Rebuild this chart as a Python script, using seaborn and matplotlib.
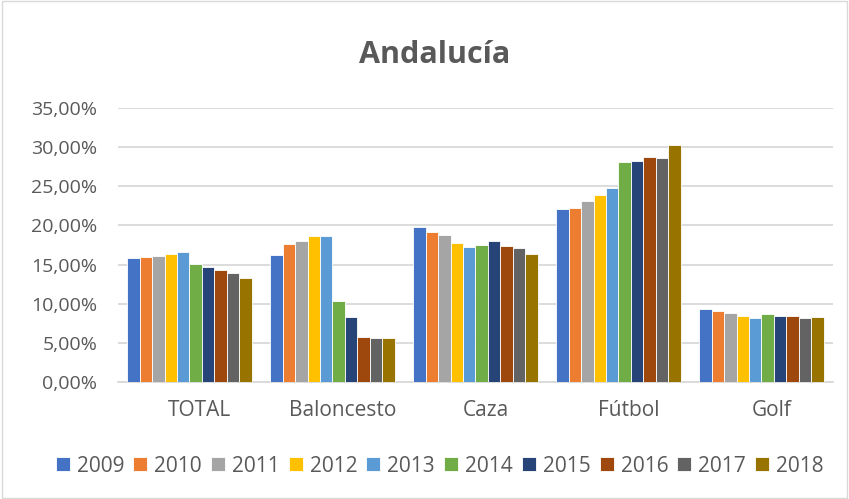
import seaborn as sns
import matplotlib.pyplot as plt
import matplotlib.transforms as mtransforms
import pandas as pd
from matplotlib.ticker import FuncFormatter, MultipleLocator
from matplotlib.patches import Rectangle

# porcentajes (Andalucia)
categorias = ["TOTAL", "Baloncesto", "Caza", "Fútbol", "Golf"]
anios = ["2009", "2010", "2011", "2012", "2013", "2014", "2015", "2016", "2017", "2018"]
total = [15.87, 15.92, 16.04, 16.38, 16.55, 15.11, 14.69, 14.26, 13.97, 13.33]
baloncesto = [16.17, 17.57, 18.04, 18.59, 18.59, 10.31, 8.32, 5.69, 5.56, 5.56]
caza = [19.86, 19.10, 18.76, 17.70, 17.23, 17.49, 18.00, 17.40, 17.06, 16.30]
futbol = [22.11, 22.28, 23.13, 23.90, 24.75, 28.06, 28.27, 28.74, 28.61, 30.31]
golf = [9.30, 9.04, 8.79, 8.40, 8.19, 8.66, 8.40, 8.40, 8.19, 8.36]

colores = ["#4472C4", "#ED7D31", "#A5A5A5", "#FFC000", "#5B9BD5",
           "#70AD47", "#264478", "#9E480E", "#636363", "#997300"]

filas = []
for cat, vals in zip(categorias, [total, baloncesto, caza, futbol, golf]):
    for a, v in zip(anios, vals):
        filas.append({"categoria": cat, "anio": a, "valor": v})
df = pd.DataFrame(filas)

sns.set_style("white")
plt.rcParams['font.family'] = ['Open Sans', 'DejaVu Sans']
gris = "#595959"

fig = plt.figure(figsize=(8.49, 4.99), dpi=100)
ax = fig.add_axes([0.139, 0.2345, 0.842, 0.549])

sns.barplot(data=df, x="categoria", y="valor", hue="anio", palette=colores,
            saturation=1, width=0.87, edgecolor="white", linewidth=0.6,
            ax=ax, zorder=3)

ax.set_ylim(0, 35)
ax.yaxis.set_major_locator(MultipleLocator(5))
ax.yaxis.set_major_formatter(FuncFormatter(lambda v, p: f"{v:.2f}%".replace(".", ",")))
ax.grid(axis="y", color="#D9D9D9", linewidth=1.3, zorder=0)
ax.set_axisbelow(True)
for s in ["top", "right", "left"]:
    ax.spines[s].set_visible(False)
ax.spines["bottom"].set_color("#D9D9D9")
ax.spines["bottom"].set_linewidth(1.3)
ax.set_xlabel("")
ax.set_ylabel("")
ax.tick_params(axis="y", length=0, labelsize=14, colors=gris, pad=15)
ax.tick_params(axis="x", length=0, labelsize=15, colors=gris, pad=13)
desplaza = mtransforms.ScaledTranslation(10 / 100, 0, fig.dpi_scale_trans)
for lab in ax.get_xticklabels():
    lab.set_transform(lab.get_transform() + desplaza)

fig.text(0.512, 0.89, "Andalucía", ha="center", va="center", fontsize=22,
         fontweight="bold", color=gris)

handles, labels = ax.get_legend_handles_labels()
ax.legend(handles, labels, loc="center", bbox_to_anchor=(0.518, 0.066),
          bbox_transform=fig.transFigure, ncol=10, frameon=False,
          fontsize=15, handlelength=0.67, handleheight=0.67, handletextpad=0.34,
          columnspacing=0.43, labelcolor=gris)

fig.patches.append(Rectangle((0.002, 0.003), 0.996, 0.994, transform=fig.transFigure,
                             fill=False, edgecolor="#D9D9D9", linewidth=1))

fig.savefig("out.png", dpi=100)
